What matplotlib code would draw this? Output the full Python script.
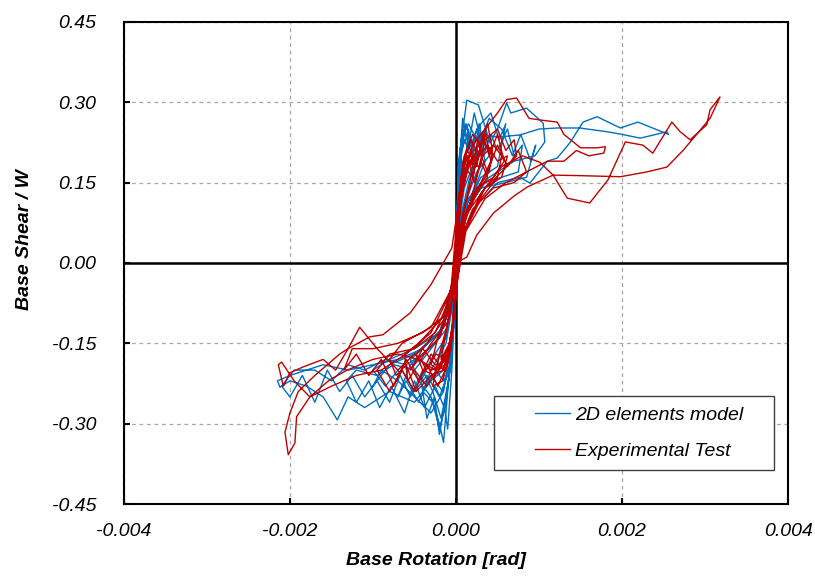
import numpy as np
import matplotlib
matplotlib.use("Agg")
import matplotlib.pyplot as plt
from matplotlib import font_manager
from matplotlib.patches import Rectangle

# rotation in mrad, shear as base shear / W
model_small_cycles = [
    (0.00, 0.00), (0.02, 0.10), (0.05, 0.20), (0.10, 0.24), (0.20, 0.22), (0.25, 0.20), (0.15, 0.15), (0.05, 0.08),
    (0.00, -0.02), (-0.03, -0.12), (-0.08, -0.20), (-0.15, -0.22), (-0.25, -0.20), (-0.15, -0.15), (-0.05, -0.08),
    (0.01, 0.05), (0.03, 0.15), (0.06, 0.23), (0.15, 0.26), (0.25, 0.23), (0.35, 0.25), (0.40, 0.20), (0.25, 0.17), (0.08, 0.10),
    (0.00, 0.00), (-0.04, -0.14), (-0.10, -0.24), (-0.15, -0.335), (-0.20, -0.30), (-0.30, -0.25), (-0.45, -0.22),
    (-0.55, -0.18), (-0.40, -0.16), (-0.15, -0.12), (-0.03, -0.05),
    (0.01, 0.08), (0.03, 0.18), (0.08, 0.25), (0.18, 0.22), (0.28, 0.26), (0.34, 0.21), (0.22, 0.19), (0.10, 0.14), (0.02, 0.06),
    (-0.01, -0.04), (-0.05, -0.16), (-0.12, -0.26), (-0.20, -0.31), (-0.28, -0.26), (-0.40, -0.24), (-0.30, -0.20),
    (-0.12, -0.15), (-0.02, -0.06),
    (0.02, 0.09), (0.06, 0.21), (0.14, 0.24), (0.22, 0.20), (0.30, 0.23), (0.45, 0.20), (0.35, 0.16), (0.15, 0.12), (0.03, 0.05),
    (-0.02, -0.06), (-0.06, -0.18), (-0.16, -0.24), (-0.30, -0.21), (-0.45, -0.26), (-0.60, -0.22), (-0.70, -0.25),
    (-0.55, -0.19), (-0.25, -0.15), (-0.05, -0.08),
]
model_mid_cycles = [
    (0.02, 0.08), (0.05, 0.19), (0.10, 0.23), (0.18, 0.20), (0.25, 0.25), (0.33, 0.20), (0.42, 0.24), (0.50, 0.21),
    (0.62, 0.25), (0.70, 0.20), (0.80, 0.22), (0.75, 0.17), (0.55, 0.16), (0.35, 0.15), (0.12, 0.10), (0.02, 0.03),
    (-0.03, -0.10), (-0.08, -0.20), (-0.20, -0.25), (-0.35, -0.21), (-0.50, -0.24), (-0.65, -0.20), (-0.80, -0.26),
    (-0.95, -0.22), (-1.10, -0.25), (-1.25, -0.21), (-1.40, -0.24), (-1.55, -0.20), (-1.70, -0.26), (-1.85, -0.21),
    (-2.00, -0.25), (-2.10, -0.23), (-1.95, -0.20), (-1.70, -0.20), (-1.50, -0.22), (-1.30, -0.19), (-1.10, -0.20),
    (-0.85, -0.18), (-0.60, -0.19), (-0.40, -0.17), (-0.20, -0.14), (-0.05, -0.07),
    (0.01, 0.06), (0.04, 0.18), (0.08, 0.27), (0.15, 0.22), (0.22, 0.28), (0.30, 0.23), (0.40, 0.27), (0.55, 0.25),
    (0.68, 0.20), (0.78, 0.24), (0.90, 0.19), (0.96, 0.22), (0.85, 0.16), (0.60, 0.15), (0.30, 0.14), (0.10, 0.09), (0.02, 0.02),
    (-0.02, -0.08), (-0.06, -0.19), (-0.14, -0.27), (-0.25, -0.23), (-0.38, -0.27), (-0.50, -0.22), (-0.62, -0.28),
    (-0.78, -0.23), (-0.92, -0.27), (-1.05, -0.22), (-1.20, -0.26), (-1.32, -0.22), (-1.20, -0.20), (-0.95, -0.21),
    (-0.75, -0.19), (-0.50, -0.20), (-0.30, -0.16), (-0.10, -0.12), (-0.02, -0.04),
    (0.02, 0.10), (0.06, 0.22), (0.12, 0.26), (0.20, 0.21), (0.30, 0.26), (0.42, 0.28), (0.52, 0.23), (0.60, 0.26),
    (0.50, 0.18), (0.30, 0.16), (0.10, 0.10), (0.02, 0.03),
    (-0.03, -0.12), (-0.09, -0.22), (-0.18, -0.29), (-0.28, -0.24), (-0.40, -0.20), (-0.55, -0.25), (-0.70, -0.20),
    (-0.85, -0.23), (-1.00, -0.20), (-0.80, -0.18), (-0.50, -0.16), (-0.20, -0.13), (-0.04, -0.06),
    (0.02, 0.09), (0.05, 0.20), (0.10, 0.17), (0.15, 0.25), (0.22, 0.18), (0.28, 0.24), (0.35, 0.19), (0.25, 0.15),
    (0.08, 0.09), (0.01, 0.00),
    (-0.02, -0.10), (-0.05, -0.20), (-0.10, -0.31), (-0.14, -0.27), (-0.20, -0.32), (-0.26, -0.25), (-0.35, -0.29),
    (-0.42, -0.22), (-0.30, -0.18), (-0.12, -0.14), (-0.03, -0.05), (0.00, 0.00),
]
model_large_cycles = [
    (0.01, 0.08), (0.04, 0.20), (0.13, 0.304), (0.27, 0.295), (0.41, 0.224), (0.50, 0.25), (0.61, 0.299), (0.66, 0.28),
    (0.85, 0.289), (1.05, 0.261), (1.07, 0.226), (0.95, 0.20), (0.70, 0.19), (0.40, 0.16), (0.15, 0.12), (0.03, 0.05),
    (-0.02, -0.05), (-0.06, -0.15), (-0.15, -0.24), (-0.30, -0.28), (-0.50, -0.25), (-0.70, -0.22), (-0.90, -0.20),
    (-1.00, -0.23), (-0.80, -0.19), (-0.50, -0.17), (-0.20, -0.13), (-0.05, -0.06),
    (0.02, 0.06), (0.06, 0.18), (0.15, 0.22), (0.30, 0.24), (0.50, 0.235), (0.77, 0.239), (1.00, 0.25), (1.22, 0.252),
    (1.49, 0.252), (1.82, 0.245), (2.00, 0.24), (2.22, 0.233), (2.54, 0.245), (2.56, 0.24), (2.19, 0.263), (1.98, 0.252),
    (1.70, 0.273), (1.53, 0.263), (1.37, 0.224), (1.22, 0.196), (1.10, 0.19), (0.89, 0.149), (0.77, 0.16), (0.50, 0.15),
    (0.20, 0.10), (0.05, 0.04),
    (0.00, -0.05), (-0.05, -0.15), (-0.15, -0.20), (-0.30, -0.22), (-0.50, -0.26), (-0.80, -0.24), (-1.10, -0.27),
    (-1.30, -0.25), (-1.43, -0.293), (-1.60, -0.25), (-1.80, -0.23), (-2.00, -0.22), (-2.12, -0.232), (-2.15, -0.22),
    (-2.00, -0.21), (-1.80, -0.20), (-1.60, -0.19), (-1.30, -0.20), (-1.00, -0.19), (-0.70, -0.18), (-0.40, -0.16),
    (-0.15, -0.12), (-0.03, -0.05), (0.02, 0.07), (0.06, 0.18),
]

test_small_cycles = [
    (0.00, 0.00), (0.03, 0.09), (0.08, 0.15), (0.18, 0.19), (0.22, 0.17), (0.10, 0.10),
    (0.02, 0.00), (-0.03, -0.10), (-0.08, -0.15), (-0.18, -0.18), (-0.12, -0.13), (-0.03, -0.05),
    (0.02, 0.06), (0.07, 0.13), (0.15, 0.20), (0.28, 0.22), (0.32, 0.20), (0.20, 0.13),
    (0.05, 0.04), (0.00, -0.06), (-0.05, -0.14), (-0.20, -0.20), (-0.30, -0.19), (-0.22, -0.14), (-0.05, -0.07),
    (0.01, 0.03), (0.06, 0.12), (0.15, 0.18), (0.26, 0.20), (0.36, 0.24), (0.42, 0.19), (0.30, 0.15), (0.12, 0.09),
    (0.03, 0.00), (-0.02, -0.10), (-0.10, -0.17), (-0.25, -0.21), (-0.40, -0.20), (-0.48, -0.17), (-0.35, -0.15),
    (-0.12, -0.10), (-0.02, -0.02),
    (0.04, 0.10), (0.12, 0.17), (0.25, 0.21), (0.32, 0.20), (0.45, 0.22), (0.55, 0.20), (0.50, 0.16), (0.30, 0.12), (0.08, 0.05),
    (0.00, -0.05), (-0.06, -0.15), (-0.20, -0.19), (-0.35, -0.23), (-0.50, -0.20), (-0.58, -0.22), (-0.62, -0.17),
    (-0.45, -0.15), (-0.15, -0.10), (-0.03, -0.03),
    (0.05, 0.11), (0.15, 0.19), (0.28, 0.18), (0.35, 0.23), (0.50, 0.25), (0.60, 0.21), (0.70, 0.23), (0.73, 0.20),
    (0.55, 0.17), (0.35, 0.14), (0.10, 0.06),
    (0.01, -0.04), (-0.05, -0.13), (-0.15, -0.20), (-0.30, -0.21), (-0.48, -0.24), (-0.60, -0.19), (-0.72, -0.21),
    (-0.80, -0.18), (-0.65, -0.15), (-0.30, -0.12), (-0.06, -0.05),
    (0.03, 0.12), (0.10, 0.20), (0.20, 0.24), (0.30, 0.22), (0.38, 0.26), (0.44, 0.21), (0.40, 0.17), (0.22, 0.13), (0.06, 0.07),
    (0.00, -0.02), (-0.04, -0.12), (-0.12, -0.18), (-0.24, -0.17), (-0.36, -0.20), (-0.42, -0.18), (-0.30, -0.15),
    (-0.10, -0.11), (-0.02, -0.04),
    (0.04, 0.13), (0.13, 0.21), (0.22, 0.19), (0.26, 0.23), (0.30, 0.21), (0.18, 0.16), (0.04, 0.06),
    (-0.01, -0.05), (-0.06, -0.16), (-0.16, -0.22), (-0.28, -0.23), (-0.20, -0.17), (-0.06, -0.09),
]
test_mid_cycles = [
    (0.03, 0.10), (0.10, 0.18), (0.20, 0.16), (0.28, 0.21), (0.38, 0.17), (0.50, 0.22), (0.62, 0.18), (0.75, 0.21),
    (0.85, 0.17), (0.70, 0.15), (0.45, 0.14), (0.20, 0.10), (0.05, 0.04),
    (0.00, -0.04), (-0.05, -0.14), (-0.15, -0.20), (-0.30, -0.17), (-0.45, -0.22), (-0.60, -0.18), (-0.75, -0.23),
    (-0.90, -0.18), (-1.05, -0.21), (-1.20, -0.17), (-1.35, -0.20), (-1.25, -0.16), (-1.00, -0.16), (-0.70, -0.15),
    (-0.40, -0.13), (-0.15, -0.10), (-0.03, -0.03),
    (0.02, 0.08), (0.07, 0.17), (0.15, 0.22), (0.25, 0.18), (0.32, 0.24), (0.40, 0.20), (0.50, 0.24), (0.58, 0.19),
    (0.45, 0.16), (0.25, 0.14), (0.08, 0.08), (0.01, 0.00),
    (-0.03, -0.10), (-0.10, -0.19), (-0.22, -0.23), (-0.35, -0.19), (-0.50, -0.24), (-0.65, -0.20), (-0.80, -0.24),
    (-0.95, -0.20), (-0.80, -0.17), (-0.50, -0.16), (-0.25, -0.13), (-0.06, -0.06),
    (0.02, 0.07), (0.06, 0.16), (0.14, 0.20), (0.22, 0.15), (0.30, 0.19), (0.38, 0.16), (0.25, 0.13), (0.08, 0.07), (0.00, -0.01),
    (-0.04, -0.13), (-0.12, -0.20), (-0.25, -0.19), (-0.40, -0.16), (-0.55, -0.20), (-0.40, -0.17), (-0.20, -0.14), (-0.05, -0.07),
    (0.03, 0.11), (0.09, 0.19), (0.18, 0.23), (0.28, 0.20), (0.38, 0.22), (0.50, 0.19), (0.62, 0.20), (0.55, 0.16),
    (0.35, 0.14), (0.12, 0.09), (0.02, 0.02),
]
test_large_cycles = [
    (0.00, -0.02), (0.02, 0.05), (0.08, 0.15), (0.20, 0.22), (0.35, 0.25), (0.50, 0.28), (0.61, 0.305), (0.73, 0.308),
    (0.88, 0.27), (1.01, 0.267), (1.22, 0.263), (1.30, 0.24), (1.50, 0.215), (1.70, 0.215), (1.80, 0.217), (1.78, 0.205),
    (1.60, 0.20), (1.45, 0.21), (1.30, 0.19), (1.10, 0.19), (0.85, 0.17), (0.60, 0.15), (0.35, 0.12), (0.12, 0.06),
    (0.02, -0.03), (-0.04, -0.12), (-0.12, -0.19), (-0.30, -0.20), (-0.50, -0.17), (-0.70, -0.20), (-0.95, -0.16),
    (-1.16, -0.12), (-1.30, -0.16), (-1.45, -0.20), (-1.60, -0.18), (-1.84, -0.194), (-2.00, -0.205), (-2.08, -0.23),
    (-2.14, -0.19), (-2.10, -0.185), (-1.95, -0.22), (-1.76, -0.25), (-1.50, -0.23), (-1.20, -0.21), (-0.90, -0.20),
    (-0.60, -0.17), (-0.30, -0.13), (-0.08, -0.06),
    (0.00, 0.00), (0.13, 0.011), (0.25, 0.052), (0.45, 0.093), (0.70, 0.125), (0.86, 0.142), (1.17, 0.164), (1.50, 0.163),
    (1.98, 0.161), (2.30, 0.17), (2.54, 0.179), (2.74, 0.211), (2.94, 0.248), (3.06, 0.27), (3.18, 0.31), (3.06, 0.286),
    (3.02, 0.258), (2.82, 0.23), (2.70, 0.245), (2.60, 0.263), (2.37, 0.205), (2.25, 0.22), (2.04, 0.226), (1.83, 0.155),
    (1.61, 0.112), (1.34, 0.121), (1.17, 0.164), (1.01, 0.188), (0.80, 0.20), (0.55, 0.18), (0.30, 0.13), (0.10, 0.06),
    (0.02, -0.02), (-0.04, -0.12), (-0.12, -0.18), (-0.25, -0.20), (-0.45, -0.18), (-0.70, -0.17), (-1.00, -0.18),
    (-1.31, -0.20), (-1.52, -0.218), (-1.76, -0.25), (-1.92, -0.287), (-1.94, -0.336), (-2.02, -0.358), (-2.06, -0.316),
    (-2.00, -0.28), (-1.90, -0.24), (-1.70, -0.21), (-1.40, -0.17), (-1.30, -0.16), (-1.04, -0.138), (-0.88, -0.134),
    (-0.55, -0.093), (-0.30, -0.04), (-0.05, 0.028), (0.02, 0.10), (0.08, 0.16), (0.20, 0.20),
]

x_ticks = [-0.004, -0.002, 0.000, 0.002, 0.004]
y_ticks = [-0.45, -0.30, -0.15, 0.00, 0.15, 0.30, 0.45]

BLUE = "#0070C0"
RED = "#C00000"

installed = {f.name for f in font_manager.fontManager.ttflist}
family = [f for f in ["Liberation Sans Narrow", "Liberation Sans", "DejaVu Sans"] if f in installed]
plt.rcParams["font.family"] = family


def to_xy(*parts):
    pts = [p for part in parts for p in part]
    rot, shear = zip(*pts)
    return np.array(rot) * 1e-3, np.array(shear)


fig = plt.figure(figsize=(8.15, 5.77), dpi=100)
ax = fig.add_axes([0.152, 0.1265, 0.815, 0.8355])

mx, my = to_xy(model_small_cycles, model_mid_cycles, model_large_cycles)
tx, ty = to_xy(test_small_cycles, test_mid_cycles, test_large_cycles)
ax.plot(mx, my, color=BLUE, lw=1.0, label="2D elements model", zorder=3)
ax.plot(tx, ty, color=RED, lw=1.0, label="Experimental Test", zorder=4)

ax.set_xlim(-0.004, 0.004)
ax.set_ylim(-0.45, 0.45)
ax.set_xticks(x_ticks)
ax.set_yticks(y_ticks)
ax.set_xticklabels([f"{v:.3f}" for v in x_ticks])
ax.set_yticklabels([f"{v:.2f}" for v in y_ticks])
ax.tick_params(direction="in", length=4, width=1.5, labelsize=14, color="black")
ax.tick_params(axis="y", pad=20)
ax.tick_params(axis="x", pad=14)
for lab in ax.get_xticklabels() + ax.get_yticklabels():
    lab.set_fontstyle("italic")

ax.grid(True, color="#A6A6A6", linestyle=(0, (3, 3)), lw=0.9, zorder=1)
ax.axhline(0, color="black", lw=1.8, zorder=2)
ax.axvline(0, color="black", lw=1.8, zorder=2)
for s in ax.spines.values():
    s.set_linewidth(1.5)

ax.set_xlabel("Base Rotation [rad]", fontsize=14, fontweight="bold", fontstyle="italic")
ax.set_ylabel("Base Shear / W", fontsize=14, fontweight="bold", fontstyle="italic")
ax.xaxis.set_label_coords(0.47, -0.10)
ax.yaxis.set_label_coords(-0.137, 0.548)

# legend frame drawn separately so it can be wider than the entries
ax.add_patch(Rectangle((0.557, 0.0705), 0.422, 0.154, transform=ax.transAxes, facecolor="white",
                       edgecolor="#404040", lw=1.0, zorder=9))
leg = ax.legend(loc="center", bbox_to_anchor=(0.776, 0.1475), prop={"size": 14, "style": "italic"},
                frameon=False, handlelength=1.8, handletextpad=0.25, labelspacing=0.95)
leg.set_zorder(10)

fig.savefig("out.png", dpi=100)
